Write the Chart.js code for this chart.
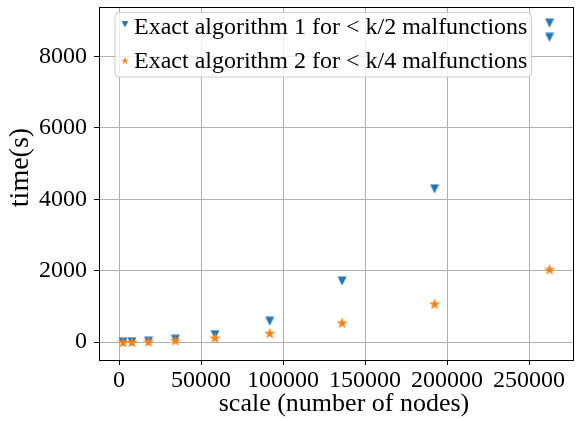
<!DOCTYPE html>
<html lang="en">
<head>
<meta charset="UTF-8">
<title>Exact algorithms: time vs scale</title>
<style>
  html, body { margin: 0; padding: 0; background: #fff; }
  #wrap { width: 587px; height: 421px; position: relative; }
</style>
</head>
<body>
<div id="wrap"><canvas id="chart"></canvas></div>
<script src="https://cdn.jsdelivr.net/npm/chart.js"></script>
<script>
// data
var nodesAlg1 = [2500, 7875, 18000, 34375, 58500, 91875, 136000, 192375, 262500, 262500];
var timeAlg1 = [5, 12, 25, 80, 210, 585, 1710, 4290, 8530, 8930];
var nodesAlg2 = [2500, 7875, 18000, 34375, 58500, 91875, 136000, 192375, 262500];
var timeAlg2 = [3, 6, 20, 50, 125, 255, 545, 1075, 2040];
var seriesNames = ['Exact algorithm 1 for < k/2 malfunctions', 'Exact algorithm 2 for < k/4 malfunctions'];
var xTicks = [0, 50000, 100000, 150000, 200000, 250000];
var yTicks = [0, 2000, 4000, 6000, 8000];
var xTitle = 'scale (number of nodes)';
var yTitle = 'time(s)';

var BLUE = '#1f77b4', ORANGE = '#ff7f0e';
var FONT = '"Liberation Serif", "Times New Roman", serif';

function toPoints(xs, ys) {
    var pts = [];
    for (var i = 0; i < xs.length; i++) pts.push({ x: xs[i], y: ys[i] });
    return pts;
}

// marker images: matplotlib 'v' and '*'
function makeTriangle(color, size) {
    var c = document.createElement('canvas');
    c.width = size; c.height = size;
    var g = c.getContext('2d');
    g.fillStyle = color;
    g.beginPath();
    g.moveTo(0.5, 0.5);
    g.lineTo(size - 0.5, 0.5);
    g.lineTo(size / 2, size - 0.5);
    g.closePath();
    g.fill();
    return c;
}
function makeStar(color, size) {
    var c = document.createElement('canvas');
    c.width = size; c.height = size;
    var g = c.getContext('2d');
    var R = size / 2, r = R * 0.382;
    g.fillStyle = color;
    g.beginPath();
    for (var i = 0; i < 10; i++) {
        var ang = -Math.PI / 2 + i * Math.PI / 5;
        var rad = (i % 2) ? r : R;
        var px = size / 2 + Math.cos(ang) * rad, py = size / 2 + 0.6 + Math.sin(ang) * rad;
        if (i === 0) g.moveTo(px, py); else g.lineTo(px, py);
    }
    g.closePath();
    g.fill();
    return c;
}
var triImg = makeTriangle(BLUE, 10);
var starImg = makeStar(ORANGE, 12);

function al(p) { return Math.round(p - 0.5) + 0.5; }

var decorations = {
    id: 'decorations',
    afterDraw: function(chart) {
        var a = chart.chartArea, ctx = chart.ctx;
        ctx.save();
        // spines
        ctx.strokeStyle = '#000';
        ctx.lineWidth = 1;
        ctx.strokeRect(al(a.left), al(a.top), al(a.right) - al(a.left), al(a.bottom) - al(a.top));

        // axis titles
        ctx.fillStyle = '#000';
        ctx.font = '26px ' + FONT;
        ctx.textAlign = 'center';
        ctx.textBaseline = 'alphabetic';
        ctx.fillText(xTitle, a.left + 245, a.bottom + 51);
        ctx.save();
        ctx.font = '28px ' + FONT;
        ctx.translate(a.left - 71, (a.top + a.bottom) / 2 - 16);
        ctx.rotate(-Math.PI / 2);
        ctx.fillText(yTitle, 0, 0);
        ctx.restore();

        // legend
        var bx = a.left + 16, by = a.top + 5.5, bw = 416.5, bh = 64.5, rr = 4;
        ctx.beginPath();
        ctx.moveTo(bx + rr, by);
        ctx.lineTo(bx + bw - rr, by);
        ctx.arcTo(bx + bw, by, bx + bw, by + rr, rr);
        ctx.lineTo(bx + bw, by + bh - rr);
        ctx.arcTo(bx + bw, by + bh, bx + bw - rr, by + bh, rr);
        ctx.lineTo(bx + rr, by + bh);
        ctx.arcTo(bx, by + bh, bx, by + bh - rr, rr);
        ctx.lineTo(bx, by + rr);
        ctx.arcTo(bx, by, bx + rr, by, rr);
        ctx.closePath();
        ctx.fillStyle = 'rgba(255,255,255,0.8)';
        ctx.fill();
        ctx.strokeStyle = '#cccccc';
        ctx.stroke();

        ctx.drawImage(triImg, a.left + 22, a.top + 13.5, 8, 7);
        ctx.drawImage(starImg, a.left + 22, a.top + 49.5, 8, 8);
        ctx.fillStyle = '#000';
        ctx.font = '24px ' + FONT;
        ctx.textAlign = 'left';
        ctx.fillText(seriesNames[0], a.left + 35, a.top + 27);
        ctx.fillText(seriesNames[1], a.left + 35, a.top + 61);
        ctx.restore();
    }
};

function axisCommon(ticks) {
    return {
        type: 'linear',
        afterBuildTicks: function(s) { s.ticks = ticks.map(function(v) { return { value: v }; }); },
        border: { display: false },
        grid: { color: '#b0b0b0', lineWidth: 1, tickColor: '#000', tickLength: 5, drawTicks: true },
        ticks: {
            color: '#000',
            font: { family: FONT, size: 24 },
            maxRotation: 0,
            autoSkip: false,
            callback: function(v) { return String(v); }
        },
        title: { display: false }
    };
}

var xAxis = axisCommon(xTicks);
xAxis.min = -12200; xAxis.max = 276800;
xAxis.ticks.padding = 1;
xAxis.afterFit = function(s) {
    s.height = 61;
    s.paddingLeft = 0; s.paddingRight = 0;
};

var yAxis = axisCommon(yTicks);
yAxis.min = -500; yAxis.max = 9380;
yAxis.ticks.padding = 7;
yAxis.afterFit = function(s) {
    s.width = 99;
    s.paddingTop = 0; s.paddingBottom = 0;
};

var ctx = document.getElementById('chart').getContext('2d');
window.myChart = new Chart(ctx, {
    type: 'scatter',
    data: {
        datasets: [{
            label: seriesNames[0],
            data: toPoints(nodesAlg1, timeAlg1),
            pointStyle: triImg,
            backgroundColor: BLUE,
            borderColor: BLUE,
            order: 1
        }, {
            label: seriesNames[1],
            data: toPoints(nodesAlg2, timeAlg2),
            pointStyle: starImg,
            backgroundColor: ORANGE,
            borderColor: ORANGE,
            order: 0
        }]
    },
    options: {
        responsive: true,
        maintainAspectRatio: false,
        animation: false,
        layout: { padding: { left: 0, right: 14, top: 7, bottom: 0 } },
        plugins: { legend: { display: false }, tooltip: { enabled: false } },
        scales: { x: xAxis, y: yAxis }
    },
    plugins: [decorations]
});
</script>
</body>
</html>
